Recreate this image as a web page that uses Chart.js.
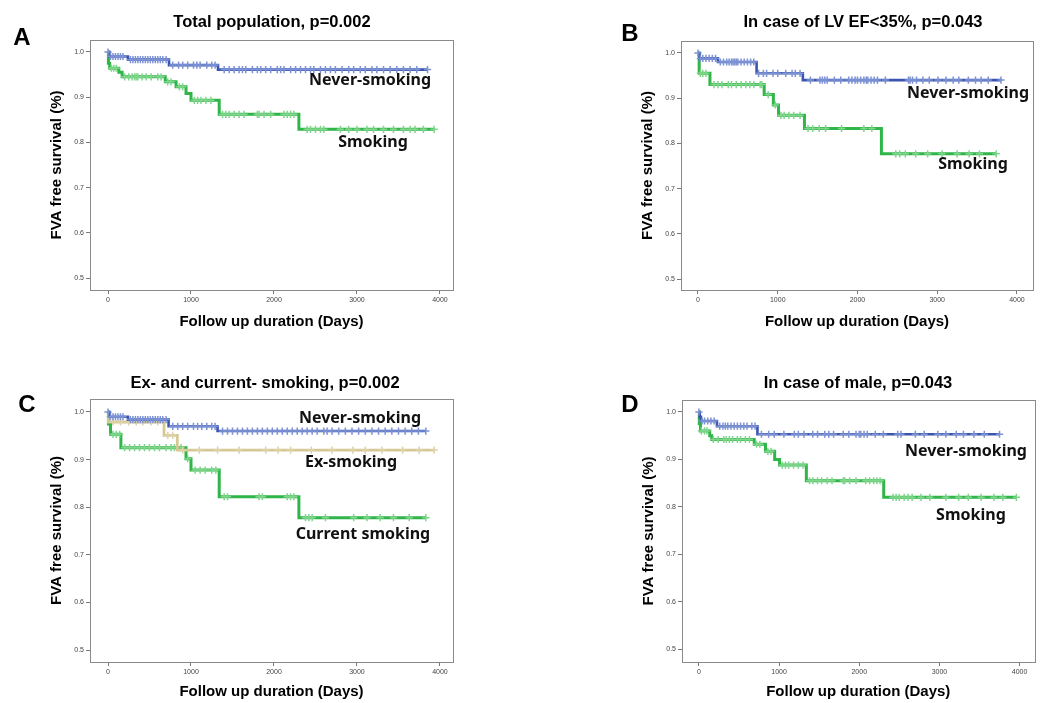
<!DOCTYPE html>
<html><head><meta charset="utf-8">
<script src="https://cdn.jsdelivr.net/npm/chart.js@4.4.0/dist/chart.umd.min.js"></script>
<style>
html,body{margin:0;padding:0;background:#fff}
body{width:1040px;height:703px;position:relative;overflow:hidden}
canvas{position:absolute}
</style></head><body>
<canvas id="cA" width="520" height="351" style="left:0;top:0;width:520px;height:351px"></canvas>
<canvas id="cB" width="520" height="351" style="left:520px;top:0;width:520px;height:351px"></canvas>
<canvas id="cC" width="520" height="352" style="left:0;top:351px;width:520px;height:352px"></canvas>
<canvas id="cD" width="520" height="352" style="left:520px;top:351px;width:520px;height:352px"></canvas>
<script>
// ---- tick labels ----
const xTickLabels = [0, 1000, 2000, 3000, 4000];
const yTickLabels = [0.5, 0.6, 0.7, 0.8, 0.9, 1.0];

// ---- Panel A: Total population ----
const aNeverTimes = [0, 20, 240, 735, 1325, 3850];
const aNeverSurv  = [1.0, 0.99, 0.983, 0.971, 0.961, 0.961];
const aNeverCens  = [0,30,60,90,120,150,180,270,300,330,360,390,420,450,480,510,540,570,600,630,660,700,
  780,850,900,960,1030,1070,1110,1190,1250,1290,
  1400,1460,1520,1580,1620,1660,1740,1800,1840,1900,1960,2040,2080,2120,2200,2260,2320,2380,2440,2480,2560,2620,2680,2740,2820,2900,2960,3040,3100,3180,3240,3320,3400,3480,3560,3640,3720,3850];
const aSmokeTimes = [0, 5, 20, 130, 170, 690, 820, 940, 1000, 1340, 2300, 3930];
const aSmokeSurv  = [1.0, 0.975, 0.964, 0.955, 0.945, 0.934, 0.923, 0.908, 0.893, 0.862, 0.829, 0.829];
const aSmokeCens  = [40,70,100,200,250,290,320,340,360,410,460,520,600,640,720,760,860,900,
  1040,1080,1120,1180,1240,1380,1420,1460,1520,1580,1640,1800,1820,1880,1960,2120,2160,2200,2240,
  2400,2440,2500,2560,2600,2800,2900,3000,3120,3200,3320,3440,3560,3640,3700,3800,3930];

// ---- Panel B: LV EF<35% ----
const bNeverTimes = [0, 20, 250, 735, 1315, 3800];
const bNeverSurv  = [1.0, 0.988, 0.98, 0.955, 0.94, 0.94];
const bNeverCens  = [0,30,60,100,140,180,220,280,320,360,390,420,440,460,480,500,540,580,620,660,700,
  760,820,860,940,1000,1100,1180,1220,1280,
  1410,1530,1560,1590,1620,1710,1790,1890,1930,1970,2000,2040,2080,2110,2130,2170,2210,2250,2350,2640,2660,2690,2740,2820,2900,3010,3110,3200,3270,3390,3480,3550,3640,3800];
const bSmokeTimes = [0, 15, 150, 830, 945, 1010, 1335, 2300, 3740];
const bSmokeSurv  = [1.0, 0.955, 0.93, 0.908, 0.885, 0.862, 0.833, 0.777, 0.777];
const bSmokeCens  = [30,60,100,200,250,300,380,420,480,540,600,650,700,780,800,880,970,
  1040,1080,1140,1200,1280,1380,1440,1520,1600,1800,2080,2180,
  2480,2530,2600,2730,2880,3060,3250,3400,3530,3740];

// ---- Panel C: Ex- and current- smoking ----
const cNeverTimes = [0, 20, 240, 730, 1320, 3830];
const cNeverSurv  = [1.0, 0.99, 0.984, 0.97, 0.96, 0.96];
const cNeverCens  = [0,30,60,90,120,150,180,270,300,330,360,390,420,450,480,510,540,570,600,630,660,700,
  780,840,900,960,1030,1080,1130,1190,1250,1290,
  1380,1440,1500,1560,1620,1680,1740,1800,1860,1920,1980,2040,2100,2160,2220,2280,2340,2400,2460,2520,2600,2640,2700,2780,2860,2940,3020,3100,3180,3260,3340,3420,3500,3580,3660,3740,3830];
const cExTimes    = [0, 5, 675, 835, 3930];
const cExSurv     = [1.0, 0.979, 0.951, 0.92, 0.92];
const cExCens     = [60,150,250,340,420,520,600,720,780,900,1100,1320,1580,1900,2050,2200,2450,2700,2950,3100,3300,3550,3750,3930];
const cCurTimes   = [0, 5, 30, 155, 940, 1000, 1340, 2300, 3830];
const cCurSurv    = [1.0, 0.975, 0.953, 0.925, 0.902, 0.878, 0.822, 0.778, 0.778];
const cCurCens    = [60,100,140,200,260,320,380,440,500,560,620,700,760,800,880,960,
  1050,1110,1170,1250,1300,1400,1440,1820,1860,2160,2200,2240,
  2380,2420,2460,2620,2960,3120,3280,3440,3630,3830];

// ---- Panel D: male ----
const dNeverTimes = [0, 10, 25, 225, 730, 3750];
const dNeverSurv  = [1.0, 0.99, 0.981, 0.97, 0.953, 0.953];
const dNeverCens  = [0,40,70,110,150,190,260,300,330,360,400,440,480,520,560,600,660,700,
  780,870,940,1060,1190,1240,1310,1420,1480,1570,1620,1680,1800,1870,1960,2000,2020,2060,2100,2200,2300,2480,2520,2700,2810,2980,3080,3210,3300,3430,3560,3750];
const dSmokeTimes = [0, 5, 20, 135, 160, 690, 830, 945, 1005, 1340, 2305, 3960];
const dSmokeSurv  = [1.0, 0.975, 0.96, 0.95, 0.942, 0.932, 0.917, 0.9, 0.888, 0.855, 0.82, 0.82];
const dSmokeCens  = [30,70,100,180,240,310,340,380,420,480,520,580,630,720,760,860,900,
  1040,1080,1120,1180,1240,1300,1380,1420,1480,1530,1600,1660,1800,1820,1880,1960,2080,2130,2180,2220,2260,
  2420,2460,2500,2560,2610,2660,2770,2880,3080,3240,3360,3520,3680,3790,3960];

// ---- styles ----
const BLUE = '#3a55b0', BLUE_C = '#7c92d4';
const GREEN = '#2fb548', GREEN_C = '#7fd68b';
const TAN = '#d6c893', TAN_C = '#ddd2a8';

function curve(times, surv) { return times.map((t, i) => ({x: t, y: surv[i]})); }
function censor(times, surv, cens) {
  return cens.map(t => {
    let v = surv[0];
    for (let i = 0; i < times.length; i++) if (times[i] <= t) v = surv[i];
    return {x: t, y: v};
  });
}
function lineDs(times, surv, color, w) {
  return {type: 'line', data: curve(times, surv), borderColor: color, borderWidth: w,
    stepped: true, pointRadius: 0, fill: false, tension: 0};
}
function censDs(times, surv, cens, color) {
  return {type: 'scatter', data: censor(times, surv, cens), pointStyle: 'cross', pointRadius: 3.6,
    borderColor: color, backgroundColor: color, pointBorderWidth: 1.5};
}

const decor = {
  id: 'decor',
  afterDatasetsDraw(chart, args, o) {
    const {ctx, chartArea: a, scales} = chart;
    ctx.save();
    ctx.strokeStyle = '#8a8a8a'; ctx.lineWidth = 1;
    ctx.strokeRect(Math.round(a.left) + 0.5, Math.round(a.top) + 0.5,
      Math.round(a.right - a.left), Math.round(a.bottom - a.top));
    ctx.fillStyle = '#111';
    ctx.textAlign = 'center'; ctx.textBaseline = 'middle';
    ctx.font = 'bold 16px "Noto Sans"';
    o.labels.forEach(l => {
      ctx.fillText(l.text, scales.x.getPixelForValue(l.x), scales.y.getPixelForValue(l.y));
    });
    ctx.restore();
  },
  afterDraw(chart, args, o) {
    const {ctx} = chart;
    ctx.save();
    ctx.fillStyle = '#000';
    ctx.textAlign = 'center'; ctx.textBaseline = 'middle';
    ctx.font = 'bold 16.5px "Liberation Sans", Arial';
    ctx.fillText(o.title, o.titleX, o.titleY);
    ctx.font = 'bold 24px "Liberation Sans", Arial';
    ctx.fillText(o.letter, o.letterX, o.letterY);
    ctx.restore();
  }
};

function makeChart(id, p) {
  const W = p.w, H = p.h;
  new Chart(document.getElementById(id), {
    data: {datasets: p.datasets},
    options: {
      responsive: false, animation: false, devicePixelRatio: 1,
      layout: {padding: {left: 0, top: p.area[1], right: W - p.area[2], bottom: 0}},
      plugins: {legend: {display: false}, tooltip: {enabled: false}, title: {display: false},
        decor: {labels: p.labels, title: p.title, titleX: p.titleX, titleY: p.titleY,
          letter: p.letter, letterX: p.letterX, letterY: p.letterY}},
      scales: {
        x: {type: 'linear', position: 'bottom', min: p.xr[0], max: p.xr[1],
          afterFit: s => { s.height = H - p.area[3]; },
          afterBuildTicks: s => { s.ticks = xTickLabels.map(v => ({value: v})); },
          border: {display: false},
          grid: {display: true, drawOnChartArea: false, drawTicks: true, tickLength: 4, color: '#777'},
          ticks: {font: {size: 7, family: 'Liberation Sans'}, color: '#444', padding: 2, maxRotation: 0,
            callback: v => String(v)},
          title: {display: true, text: 'Follow up duration (Days)', color: '#000',
            font: {size: 15, weight: 'bold', family: 'Liberation Sans'}, padding: {top: 0, bottom: p.xtPad}}
        },
        y: {type: 'linear', position: 'left', min: p.yr[0], max: p.yr[1],
          afterFit: s => { s.width = p.area[0]; },
          afterBuildTicks: s => { s.ticks = yTickLabels.map(v => ({value: v})); },
          border: {display: false},
          grid: {display: true, drawOnChartArea: false, drawTicks: true, tickLength: 4, color: '#777'},
          ticks: {font: {size: 7, family: 'Liberation Sans'}, color: '#444', padding: 2,
            callback: v => Number(v).toFixed(1)},
          title: {display: true, text: 'FVA free survival (%)', color: '#000',
            font: {size: 15, weight: 'bold', family: 'Liberation Sans'}, padding: {top: p.ytPad, bottom: 0}}
        }
      }
    },
    plugins: [decor]
  });
}

makeChart('cA', {w: 520, h: 351, area: [90, 40, 453, 290], xr: [-217, 4157], yr: [0.4735, 1.0265],
  xtPad: 20, ytPad: 48, title: 'Total population, p=0.002', titleX: 272, titleY: 22,
  letter: 'A', letterX: 22, letterY: 38,
  labels: [{text: 'Never-smoking', x: 3157, y: 0.938}, {text: 'Smoking', x: 3193, y: 0.801}],
  datasets: [
    censDs(aNeverTimes, aNeverSurv, aNeverCens, BLUE_C), lineDs(aNeverTimes, aNeverSurv, BLUE, 2.6),
    censDs(aSmokeTimes, aSmokeSurv, aSmokeCens, GREEN_C), lineDs(aSmokeTimes, aSmokeSurv, GREEN, 3)
  ]});

makeChart('cB', {w: 520, h: 351, area: [161, 41, 513, 290], xr: [-213, 4201], yr: [0.4757, 1.0265],
  xtPad: 20, ytPad: 119, title: 'In case of LV EF<35%, p=0.043', titleX: 343, titleY: 22,
  letter: 'B', letterX: 110, letterY: 34,
  labels: [{text: 'Never-smoking', x: 3386, y: 0.911}, {text: 'Smoking', x: 3448, y: 0.754}],
  datasets: [
    censDs(bNeverTimes, bNeverSurv, bNeverCens, BLUE_C), lineDs(bNeverTimes, bNeverSurv, BLUE, 2.6),
    censDs(bSmokeTimes, bSmokeSurv, bSmokeCens, GREEN_C), lineDs(bSmokeTimes, bSmokeSurv, GREEN, 3)
  ]});

makeChart('cC', {w: 520, h: 352, area: [90, 48, 453, 311], xr: [-217, 4157], yr: [0.4748, 1.0273],
  xtPad: 2, ytPad: 48, title: 'Ex- and current- smoking, p=0.002', titleX: 265, titleY: 32,
  letter: 'C', letterX: 27, letterY: 54,
  labels: [{text: 'Never-smoking', x: 3036, y: 0.987}, {text: 'Ex-smoking', x: 2928, y: 0.895},
           {text: 'Current smoking', x: 3072, y: 0.742}],
  datasets: [
    censDs(cNeverTimes, cNeverSurv, cNeverCens, BLUE_C), lineDs(cNeverTimes, cNeverSurv, BLUE, 2.6),
    censDs(cExTimes, cExSurv, cExCens, TAN_C), lineDs(cExTimes, cExSurv, TAN, 2.8),
    censDs(cCurTimes, cCurSurv, cCurCens, GREEN_C), lineDs(cCurTimes, cCurSurv, GREEN, 3)
  ]});

makeChart('cD', {w: 520, h: 352, area: [162, 49, 517, 311], xr: [-211, 4186], yr: [0.4726, 1.0253],
  xtPad: 2, ytPad: 120, title: 'In case of male, p=0.043', titleX: 338, titleY: 32,
  letter: 'D', letterX: 110, letterY: 54,
  labels: [{text: 'Never-smoking', x: 3331, y: 0.916}, {text: 'Smoking', x: 3393, y: 0.781}],
  datasets: [
    censDs(dNeverTimes, dNeverSurv, dNeverCens, BLUE_C), lineDs(dNeverTimes, dNeverSurv, BLUE, 2.6),
    censDs(dSmokeTimes, dSmokeSurv, dSmokeCens, GREEN_C), lineDs(dSmokeTimes, dSmokeSurv, GREEN, 3)
  ]});
</script>
</body></html>
